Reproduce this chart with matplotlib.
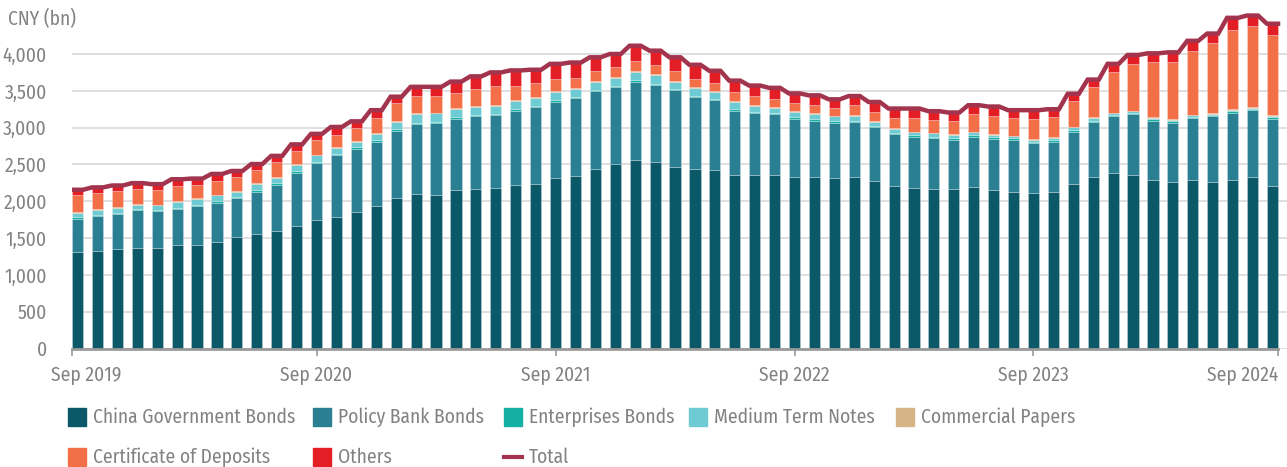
import matplotlib
matplotlib.use("Agg")
import matplotlib.pyplot as plt
import numpy as np
import pandas as pd
from matplotlib import font_manager
from matplotlib.patches import Rectangle
from matplotlib.lines import Line2D
from matplotlib.ticker import FuncFormatter
from matplotlib.transforms import ScaledTranslation

# monthly holdings, CNY bn, Sep 2019 - Sep 2024
months = pd.date_range("2019-09-01", periods=61, freq="MS")

cgb = [1313, 1326, 1353, 1366, 1366, 1406, 1406, 1451, 1518, 1554,
       1594, 1661, 1741, 1781, 1848, 1938, 2045, 2103, 2089, 2147,
       2165, 2183, 2223, 2237, 2322, 2344, 2438, 2505, 2558, 2531,
       2460, 2438, 2424, 2357, 2357, 2357, 2326, 2326, 2317, 2326,
       2277, 2210, 2183, 2170, 2170, 2197, 2147, 2130, 2116, 2130,
       2237, 2330, 2384, 2357, 2290, 2259, 2290, 2259, 2290, 2330,
       2210]
policy_bank = [451, 473, 473, 509, 496, 483, 532, 531, 522, 576,
               625, 723, 777, 844, 866, 866, 910, 946, 974, 974,
               987, 987, 1005, 1040, 1031, 1053, 1053, 1044, 1067, 1049,
               1049, 973, 951, 875, 839, 831, 795, 768, 750, 750,
               728, 705, 692, 687, 665, 678, 701, 705, 670, 674,
               710, 746, 772, 831, 804, 808, 839, 897, 911, 907,
               911]
enterprises = [17, 18, 18, 14, 13, 22, 17, 18, 18, 22,
               22, 22, 18, 22, 18, 26, 27, 18, 17, 22,
               18, 13, 22, 18, 22, 14, 18, 22, 18, 18,
               18, 18, 18, 18, 18, 17, 17, 22, 22, 18,
               22, 18, 18, 18, 18, 18, 18, 18, 18, 22,
               22, 18, 18, 17, 18, 18, 18, 18, 18, 17,
               17]
mtn = [58, 67, 67, 66, 72, 80, 76, 80, 67, 80,
       81, 85, 89, 81, 76, 85, 94, 112, 112, 112,
       111, 116, 112, 111, 103, 116, 107, 108, 116, 112,
       98, 111, 89, 98, 85, 67, 72, 67, 63, 58,
       49, 54, 45, 45, 53, 45, 40, 27, 31, 36,
       36, 40, 22, 18, 22, 18, 18, 14, 22, 18,
       18]
cp = [9, 9, 9, 9, 8, 14, 14, 9, 14, 9,
      8, 14, 9, 13, 13, 14, 13, 17, 13, 13,
      14, 14, 13, 14, 13, 13, 14, 13, 13, 13,
      13, 14, 14, 14, 14, 14, 9, 9, 9, 13,
      9, 13, 8, 9, 9, 8, 9, 8, 9, 13,
      8, 9, 9, 9, 9, 9, 9, 8, 9, 14,
      9]
cds = [232, 223, 223, 206, 201, 196, 178, 188, 187, 179,
       197, 183, 192, 165, 175, 205, 246, 233, 224, 196,
       236, 258, 196, 187, 174, 139, 142, 125, 134, 130,
       134, 111, 111, 120, 116, 107, 111, 112, 102, 139,
       129, 134, 188, 178, 179, 233, 246, 241, 272, 272,
       344, 415, 545, 634, 750, 781, 871, 956, 1071, 1098,
       1094]
others = [76, 72, 71, 76, 76, 98, 85, 94, 85, 85,
          89, 84, 89, 103, 89, 103, 85, 125, 125, 161,
          165, 179, 206, 179, 201, 205, 183, 183, 206, 192,
          183, 188, 165, 156, 142, 147, 134, 134, 121, 125,
          134, 125, 125, 116, 111, 125, 125, 108, 121, 103,
          103, 94, 116, 121, 116, 129, 134, 125, 170, 138,
          152]

series_names = ["China Government Bonds", "Policy Bank Bonds", "Enterprises Bonds",
                "Medium Term Notes", "Commercial Papers", "Certificate of Deposits", "Others"]
series_vals = [cgb, policy_bank, enterprises, mtn, cp, cds, others]
colors = ["#0b5968", "#2a7f93", "#14b0a4", "#6fcbd3", "#d6b388", "#f26f47", "#e41e25"]
total_color = "#a3344e"
text_color = "#828282"

# narrow humanist sans; take the first one that is installed
available = {f.name for f in font_manager.fontManager.ttflist}
font, fs = "Lato", 13
for cand, size in [("Fira Sans Condensed", 14), ("Source Sans 3", 13.5), ("PT Sans", 13.5)]:
    if cand in available:
        font, fs = cand, size
        break
plt.rcParams["font.family"] = [font, "DejaVu Sans"]

W, H = 1287, 467
fig = plt.figure(figsize=(W / 100, H / 100), dpi=100)
ax = fig.add_axes([72 / W, 118.5 / H, (W - 72) / W, 338.7 / H])

x = np.arange(len(months))
bw = 0.56
bottom = np.zeros(len(months))
for name, vals, c in zip(series_names, series_vals, colors):
    vals = np.array(vals, dtype=float)
    ax.bar(x, vals, bw, bottom=bottom, color=c, edgecolor=(1, 1, 1, 0.35),
           linewidth=0.5, zorder=2)
    bottom += vals

# total line: flat across each bar, sloped in the gaps
total = bottom
lx = np.ravel(np.column_stack([x - bw / 2, x + bw / 2]))
ly = np.repeat(total, 2)
ax.plot(lx, ly, color=total_color, lw=3.2, zorder=3, solid_joinstyle="miter")

ax.set_xlim(-bw / 2, len(months) - 1 + bw / 2 + 0.45)
ax.set_ylim(0, 4600)
ax.set_yticks(np.arange(0, 4001, 500))
ax.yaxis.set_major_formatter(FuncFormatter(lambda v, p: f"{int(v):,}"))
ax.grid(axis="y", color="#dcdcdc", lw=1.3, zorder=0)
ax.set_axisbelow(True)

for s in ["top", "right", "left"]:
    ax.spines[s].set_visible(False)
ax.spines["bottom"].set_color("#9a9a9a")
ax.spines["bottom"].set_linewidth(2)
ax.spines["bottom"].set_bounds(-bw / 2, len(months) - 1 + bw / 2)
ax.spines["bottom"].set_zorder(4)

sep_idx = [i for i, m in enumerate(months) if m.month == 9]
tick_pos = [float(i) for i in sep_idx]
tick_pos[0] = -bw / 2
tick_pos[-1] = len(months) - 1 + bw / 2
ax.set_xticks(tick_pos)
ax.set_xticklabels([months[i].strftime("%b %Y") for i in sep_idx])
ax.tick_params(axis="x", length=5, width=1.2, color="#9a9a9a", pad=7,
               labelsize=fs, labelcolor=text_color)
ax.tick_params(axis="y", length=0, pad=18, labelsize=fs, labelcolor=text_color)
labels = ax.get_xticklabels()
labels[0].set_transform(labels[0].get_transform() + ScaledTranslation(0.14, 0, fig.dpi_scale_trans))
labels[-1].set_horizontalalignment("right")

fig.text(8 / W, 1 - 19 / H, "CNY (bn)", fontsize=fs, color=text_color, va="center", ha="left")

# legend, two rows
legend_items = list(zip(series_names, colors)) + [("Total", None)]
slots = [(68, 417), (313, 417), (504, 417), (689, 417), (896, 417),
         (68, 457), (313, 457), (504, 457)]
for (name, c), (lx0, ly0) in zip(legend_items, slots):
    if c is not None:
        fig.patches.append(Rectangle((lx0 / W, 1 - (ly0 + 9) / H), 18 / W, 18 / H,
                                     transform=fig.transFigure, color=c))
    else:
        fig.lines.append(Line2D([lx0 / W, (lx0 + 18) / W], [1 - ly0 / H] * 2,
                                transform=fig.transFigure, color=total_color, lw=3))
    fig.text((lx0 + 25) / W, 1 - ly0 / H, name, fontsize=fs, color=text_color,
             va="center", ha="left")

fig.savefig("out.png", dpi=100)
